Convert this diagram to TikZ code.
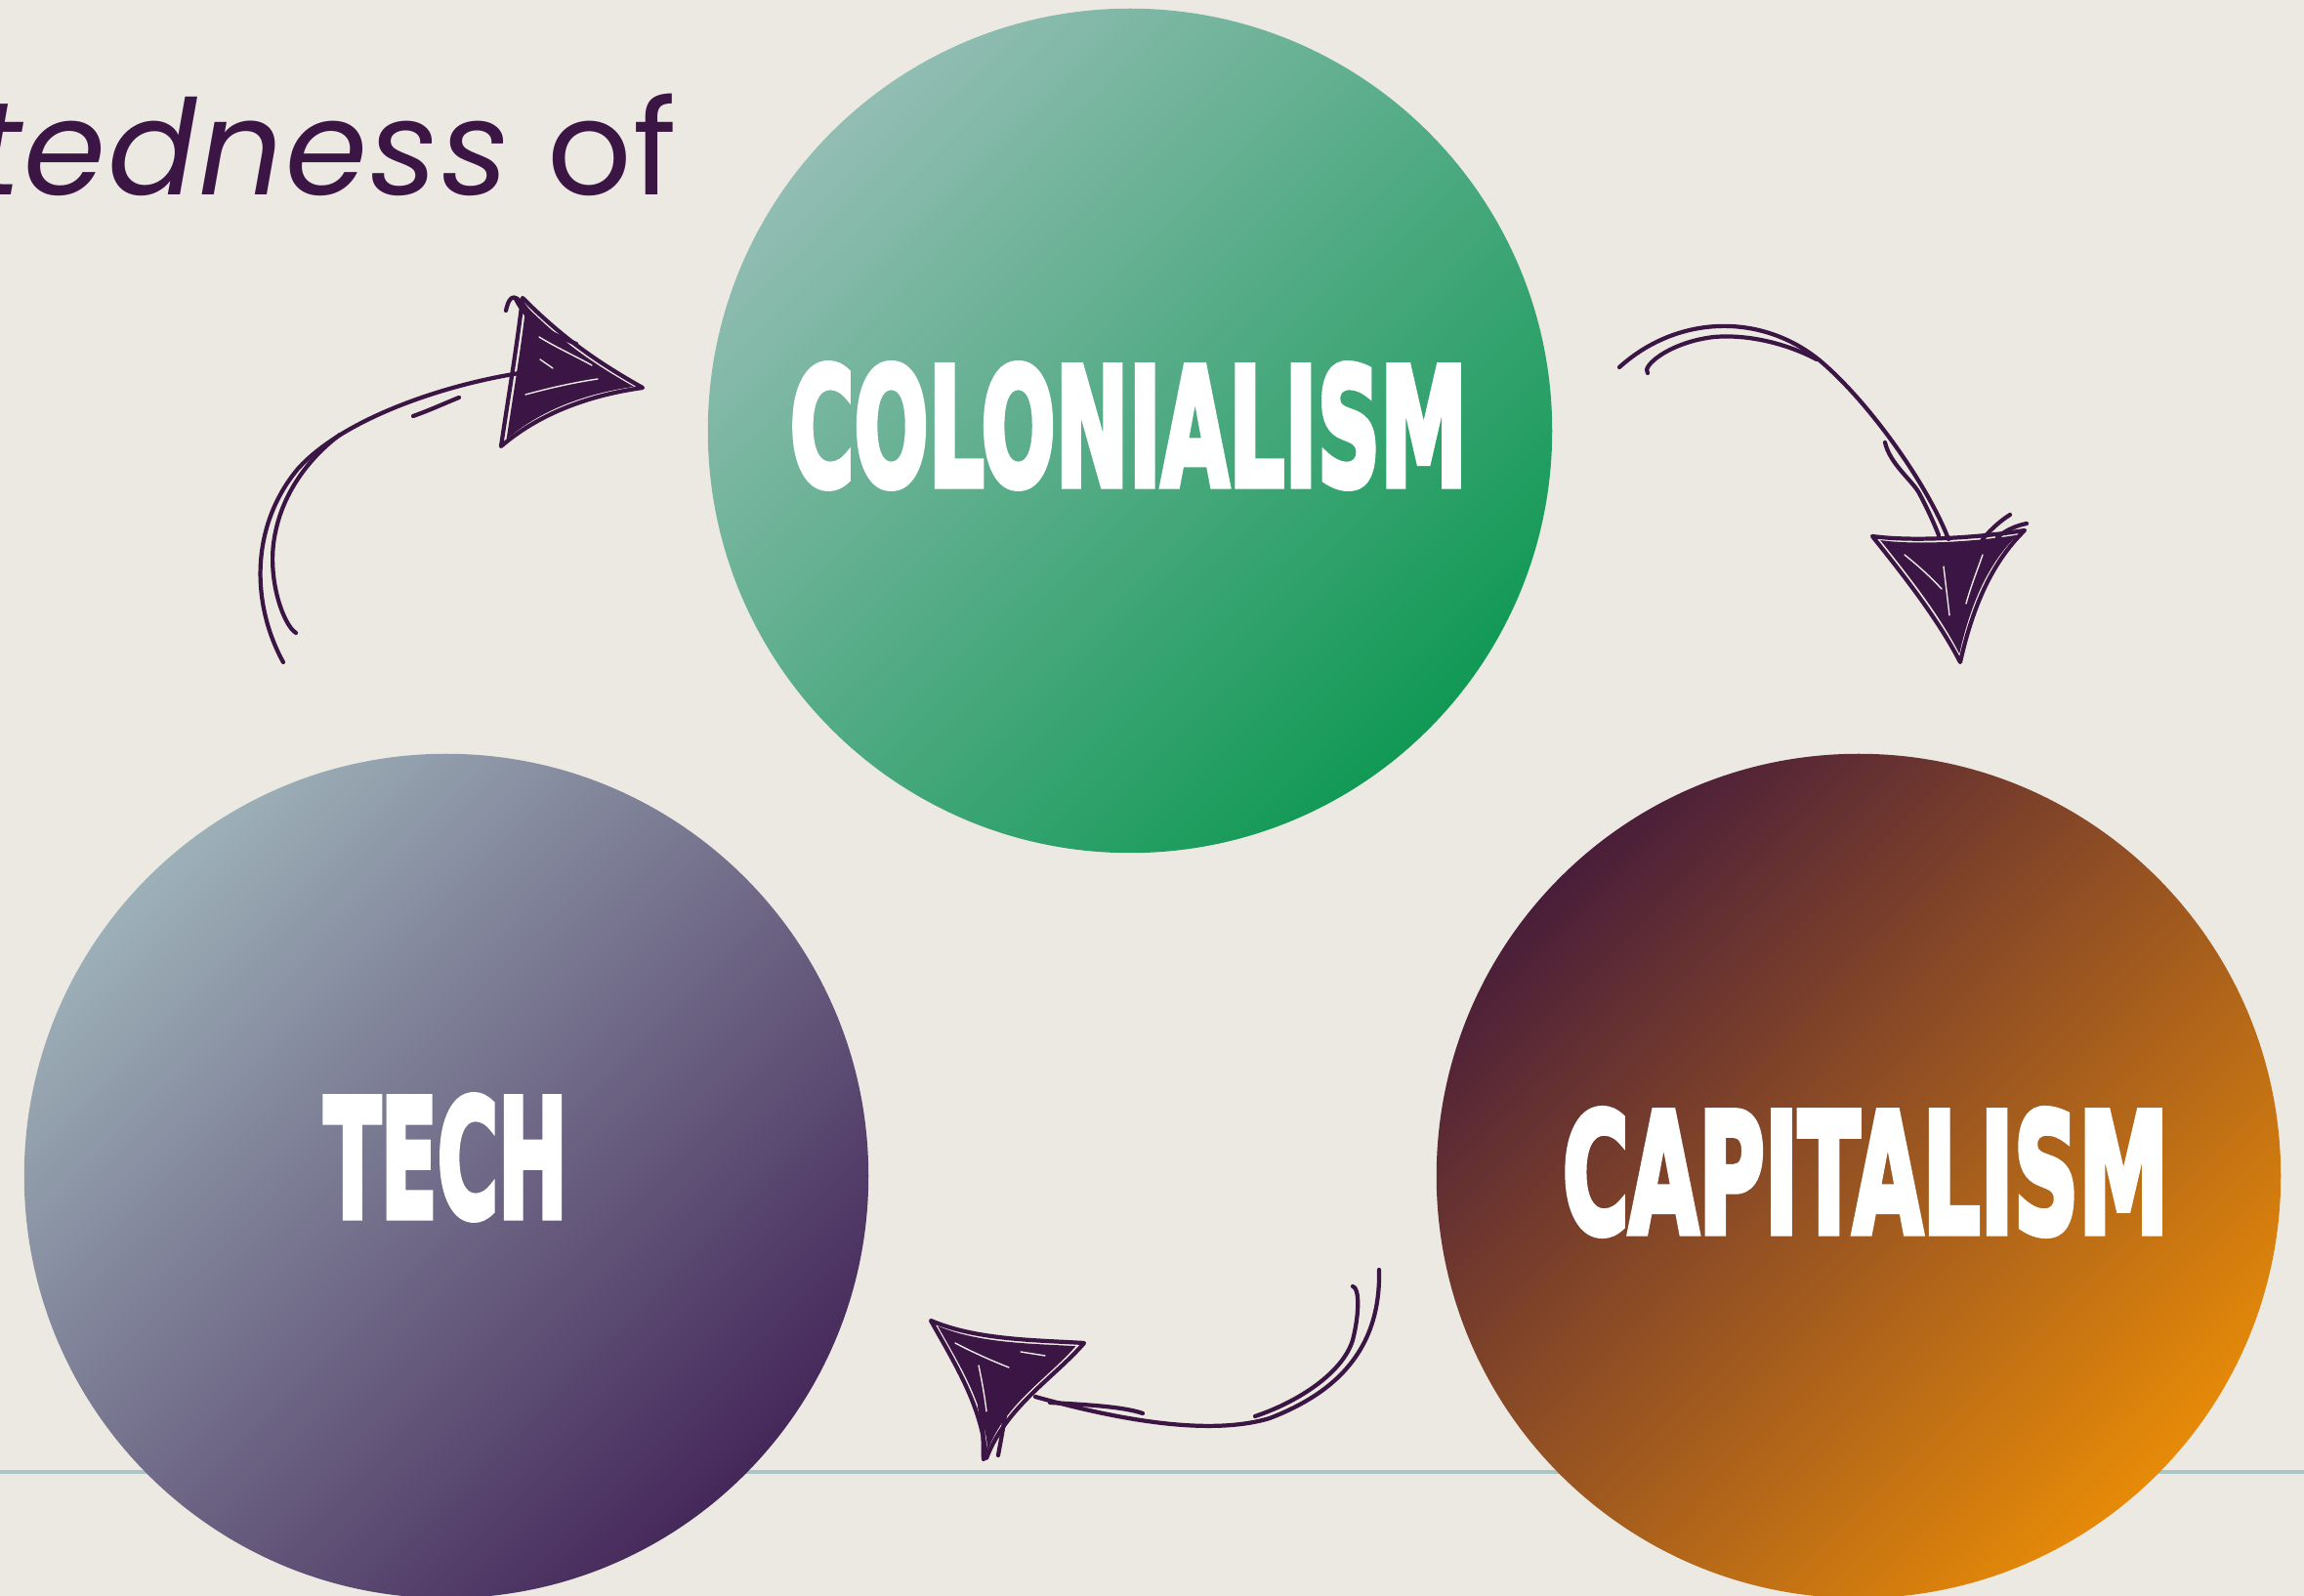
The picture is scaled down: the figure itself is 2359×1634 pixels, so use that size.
\documentclass[tikz,border=0pt]{standalone}
\usepackage{fontspec}
\usepackage{graphicx}
\newfontfamily\titlefont{Poppins}[LetterSpace=1.5]
\newfontfamily\bannerfont{DejaVu Sans}[BoldFeatures={FakeBold=4.5}]
\definecolor{paper}{HTML}{ECE9E3}
\definecolor{ink}{HTML}{3B1544}
\definecolor{rulecolor}{HTML}{A9C5C6}
\definecolor{colA}{HTML}{92BDB3}
\definecolor{colB}{HTML}{119955}
\definecolor{techA}{HTML}{9DB0B8}
\definecolor{techB}{HTML}{45285A}
\definecolor{capA}{HTML}{4A1E3A}
\definecolor{capB}{HTML}{E68A08}
% arrowhead outlines (concave triangles)
\def\headone{(535,305) .. controls (575,345) and (610,370) .. (658,397) .. controls (600,405) and (550,425) .. (513,457) .. controls (520,410) and (530,350) .. (535,305) -- cycle}
\def\headtwo{(1917,549) .. controls (1960,555) and (2030,550) .. (2073,543) .. controls (2040,575) and (2020,620) .. (2007,678) .. controls (1985,635) and (1950,590) .. (1917,549) -- cycle}
\def\headthree{(953,1352) .. controls (1000,1372) and (1060,1372) .. (1110,1375) .. controls (1080,1410) and (1030,1440) .. (1010,1493) .. controls (1005,1440) and (980,1400) .. (953,1352) -- cycle}
\begin{document}
\begin{tikzpicture}[x=0.01cm, y=-0.01cm,
  disc/.style 2 args={circle, minimum size=8.64cm, inner sep=0pt,
    top color=#1, bottom color=#2, shading angle=45},
  banner/.style={inner sep=0pt, text=white},
  stroke/.style={draw=ink, line width=1.2pt, line cap=round, line join=round},
  gap/.style={draw=paper, line width=0.4pt, line cap=round},
]
\useasboundingbox (0,0) rectangle (2359,1634);
\clip (0,0) rectangle (2359,1634);
\fill[paper] (0,0) rectangle (2359,1634);

% baseline rule
\coordinate (rule-l) at (0,1507);
\coordinate (rule-r) at (2359,1507);
\draw[rulecolor, line width=1.35pt] (rule-l) -- (rule-r);

% heading, running off the left edge
\node[anchor=base east, inner sep=0pt, text=ink,
      font=\titlefont\fontsize{38.5}{42}\selectfont] (heading) at (694,200)
  {\itshape interconnectedness\upshape\ of};

% the three discs
\node[disc={colA}{colB}] (colonialism) at (1157,441) {};
\node[disc={techA}{techB}] (tech) at (457,1204) {};
\node[disc={capA}{capB}] (capitalism) at (1903,1204) {};

\node[banner] (colonialism-name) at (1155.5,436)
  {\resizebox{6.93cm}{1.24cm}{\bannerfont\bfseries COLONIALISM}};
\node[banner] (tech-name) at (456.5,1185)
  {\resizebox{2.49cm}{1.24cm}{\bannerfont\bfseries TECH}};
\node[banner] (capitalism-name) at (1910,1200)
  {\resizebox{6.20cm}{1.26cm}{\bannerfont\bfseries CAPITALISM}};

% ---- sketched arrow: tech -> colonialism
\coordinate (a1-start) at (290,678);
\coordinate (a1-end) at (532,382);
\draw[stroke] (a1-start) .. controls (258,620) and (255,540) .. (305,480)
  .. controls (350,430) and (450,395) .. (a1-end);
\draw[stroke] (303,648) .. controls (290,640) and (272,590) .. (282,545)
  .. controls (290,505) and (315,470) .. (348,445);
\draw[stroke] (423,426) .. controls (440,420) and (455,413) .. (470,407);
\fill[ink, shift={(569,386)}, scale=0.9, shift={(-569,-386)}] \headone;
\draw[stroke] \headone;
\draw[stroke] (518,318) .. controls (522,300) and (528,300) .. (540,318);
\draw[stroke] (528,306) .. controls (540,330) and (560,340) .. (590,352);
\draw[gap] (552,345) .. controls (570,356) and (588,364) .. (606,374);
\draw[gap] (538,404) .. controls (560,398) and (585,392) .. (612,388);
\draw[gap] (553,368) -- (566,377);

% ---- sketched arrow: colonialism -> capitalism
\coordinate (a2-start) at (1658,376);
\coordinate (a2-end) at (1995,552);
\draw[stroke] (a2-start) .. controls (1720,320) and (1810,320) .. (1870,375)
  .. controls (1920,420) and (1975,500) .. (a2-end);
\draw[stroke] (1687,382) .. controls (1680,375) and (1710,350) .. (1755,345)
  .. controls (1790,342) and (1830,352) .. (1860,368);
\draw[stroke] (1930,453) .. controls (1935,475) and (1958,492) .. (1965,505)
  .. controls (1972,518) and (1980,535) .. (1985,548);
\fill[ink, shift={(1999,590)}, scale=0.9, shift={(-1999,-590)}] \headtwo;
\draw[stroke] \headtwo;
\draw[stroke] (2030,552) .. controls (2040,540) and (2050,532) .. (2058,527);
\draw[stroke] (2045,550) .. controls (2055,542) and (2065,538) .. (2075,536);
\draw[gap] (1950,568) .. controls (1965,580) and (1978,592) .. (1988,603);
\draw[gap] (2030,568) .. controls (2024,585) and (2018,600) .. (2013,618);
\draw[gap] (1990,580) -- (1996,630);

% ---- sketched arrow: capitalism -> tech
\coordinate (a3-start) at (1412,1300);
\coordinate (a3-end) at (1060,1430);
\draw[stroke] (a3-start) .. controls (1414,1380) and (1370,1425) .. (1300,1452)
  .. controls (1240,1470) and (1150,1455) .. (a3-end);
\draw[stroke] (1385,1317) .. controls (1392,1318) and (1392,1345) .. (1385,1372)
  .. controls (1375,1405) and (1330,1435) .. (1285,1450);
\draw[stroke] (1170,1447) .. controls (1150,1440) and (1110,1438) .. (1075,1436);
\fill[ink, shift={(1024,1407)}, scale=0.9, shift={(-1024,-1407)}] \headthree;
\draw[stroke] \headthree;
\draw[stroke] (1003,1440) .. controls (1008,1460) and (1006,1480) .. (1007,1494);
\draw[stroke] (1030,1440) .. controls (1028,1460) and (1024,1478) .. (1022,1490);
\draw[gap] (978,1375) .. controls (995,1384) and (1015,1393) .. (1033,1400);
\draw[gap] (1002,1398) .. controls (1005,1412) and (1008,1428) .. (1010,1445);
\draw[gap] (1045,1384) -- (1070,1388);
\end{tikzpicture}
\end{document}
